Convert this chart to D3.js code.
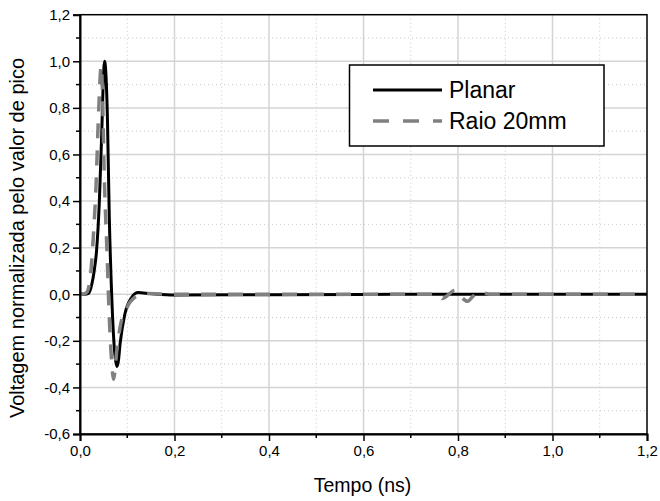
<!DOCTYPE html>
<html>
<head>
<meta charset="utf-8">
<script src="https://cdn.jsdelivr.net/npm/d3@7"></script>
<style>
  body { margin: 0; background: #fff; }
  svg { font-family: 'Liberation Sans', Arial, sans-serif; }
</style>
</head>
<body>
<svg id="chart" width="660" height="501"></svg>
<script>
// time axis (ns) and normalised voltage
const planarT = [0, 0.010, 0.018, 0.025, 0.030, 0.035, 0.041, 0.046, 0.049, 0.052, 0.055, 0.058, 0.062, 0.067, 0.073, 0.078, 0.081, 0.085, 0.095, 0.109, 0.123, 0.148, 0.2, 0.4, 0.6, 0.8, 1.0, 1.2];
const planarV = [0, 0, 0.004, 0.043, 0.10, 0.186, 0.40, 0.69, 0.90, 1.0, 0.94, 0.76, 0.33, 0.0, -0.24, -0.31, -0.29, -0.21, -0.085, -0.015, 0.007, 0.003, -0.003, -0.002, -0.001, 0, 0, 0];

const raioT = [0, 0.004, 0.013, 0.021, 0.028, 0.034, 0.039, 0.045, 0.048, 0.051, 0.057, 0.062, 0.067, 0.071, 0.078, 0.085, 0.099, 0.120, 0.134, 0.2, 0.5, 0.76, 0.767, 0.794, 0.806, 0.820, 0.832, 0.845, 0.868, 1.0, 1.2];
const raioV = [0, 0, 0.005, 0.057, 0.24, 0.47, 0.76, 0.98, 0.83, 0.54, 0.19, -0.10, -0.29, -0.365, -0.24, -0.14, -0.058, -0.007, 0.003, 0, 0, 0, -0.018, 0.017, -0.01, -0.03, -0.008, 0.011, 0, 0, 0];

const xTicks = [0, 0.2, 0.4, 0.6, 0.8, 1.0, 1.2];
const yTicks = [-0.6, -0.4, -0.2, 0, 0.2, 0.4, 0.6, 0.8, 1.0, 1.2];
const legendNames = ["Planar", "Raio 20mm"];

const margin = { top: 14.7, left: 80, right: 13, bottom: 67 };
const svg = d3.select("#chart");
const width = 660 - margin.left - margin.right;
const height = 501 - margin.top - margin.bottom;

const x = d3.scaleLinear().domain([0, 1.2]).range([0, width]);
const y = d3.scaleLinear().domain([-0.6, 1.2]).range([height, 0]);
const fmt = d => d3.format(".1f")(d).replace(".", ",").replace("−", "-");

const g = svg.append("g").attr("transform", `translate(${margin.left},${margin.top})`);

// minor grid (dotted) at every 0.1
const minorX = d3.range(1, 12, 2).map(i => i / 10);
const minorY = d3.range(-5, 12, 2).map(i => i / 10);
g.append("g").selectAll("line").data(minorX).join("line")
  .attr("x1", d => x(d)).attr("x2", d => x(d)).attr("y1", 0).attr("y2", height)
  .attr("stroke", "#c8c8c8").attr("stroke-width", 1).attr("stroke-dasharray", "1,3");
g.append("g").selectAll("line").data(minorY).join("line")
  .attr("y1", d => y(d)).attr("y2", d => y(d)).attr("x1", 0).attr("x2", width)
  .attr("stroke", "#c8c8c8").attr("stroke-width", 1).attr("stroke-dasharray", "1,3");

// major grid (solid)
g.append("g").selectAll("line").data(xTicks.slice(1, -1)).join("line")
  .attr("x1", d => x(d)).attr("x2", d => x(d)).attr("y1", 0).attr("y2", height)
  .attr("stroke", "#d4d4d4").attr("stroke-width", 1.5);
g.append("g").selectAll("line").data(yTicks.slice(1, -1)).join("line")
  .attr("y1", d => y(d)).attr("y2", d => y(d)).attr("x1", 0).attr("x2", width)
  .attr("stroke", "#d4d4d4").attr("stroke-width", 1.5);

// series
const line = d3.line().curve(d3.curveMonotoneX);
g.append("path")
  .attr("d", line(planarT.map((t, i) => [x(t), y(planarV[i])])))
  .attr("fill", "none").attr("stroke", "#000").attr("stroke-width", 3);
g.append("path")
  .attr("d", line(raioT.map((t, i) => [x(t), y(raioV[i])])))
  .attr("fill", "none").attr("stroke", "#808080").attr("stroke-width", 3.5)
  .attr("stroke-dasharray", "15,12");

// frame
g.append("rect").attr("width", width).attr("height", height)
  .attr("fill", "none").attr("stroke", "#000").attr("stroke-width", 1.5);

// axes
const xAxis = d3.axisBottom(x).tickValues(xTicks).tickFormat(fmt).tickSize(7).tickPadding(4);
const yAxis = d3.axisLeft(y).tickValues(yTicks).tickFormat(fmt).tickSize(7).tickPadding(3);
const xa = g.append("g").attr("transform", `translate(0,${height})`).call(xAxis);
const ya = g.append("g").call(yAxis);
[xa, ya].forEach(a => {
  a.select(".domain").attr("stroke-width", 2);
  a.selectAll(".tick line").attr("stroke-width", 1.5);
  a.selectAll("text").attr("font-size", 15).attr("fill", "#000").attr("font-family", "'Liberation Sans', Arial, sans-serif");
});
// minor ticks
g.append("g").selectAll("line").data(minorX).join("line")
  .attr("x1", d => x(d)).attr("x2", d => x(d)).attr("y1", height).attr("y2", height + 4)
  .attr("stroke", "#000").attr("stroke-width", 1.5);
g.append("g").selectAll("line").data(minorY).join("line")
  .attr("y1", d => y(d)).attr("y2", d => y(d)).attr("x1", 0).attr("x2", -4)
  .attr("stroke", "#000").attr("stroke-width", 1.5);

// axis titles
svg.append("text").attr("x", margin.left + width / 2 - 1).attr("y", 492)
  .attr("text-anchor", "middle").attr("font-size", 19.5).text("Tempo (ns)");
svg.append("text").attr("transform", `translate(24,238) rotate(-90)`)
  .attr("text-anchor", "middle").attr("font-size", 20).text("Voltagem normalizada pelo valor de pico");

// legend
const lg = svg.append("g");
lg.append("rect").attr("x", 349.5).attr("y", 65).attr("width", 254.5).attr("height", 81)
  .attr("fill", "#fff").attr("stroke", "#000").attr("stroke-width", 1.5);
const legendStyle = [
  { stroke: "#000", width: 3, dash: null },
  { stroke: "#808080", width: 3.5, dash: "16,14" }
];
legendNames.forEach((name, i) => {
  const ly = 90 + i * 31;
  lg.append("line").attr("x1", 373).attr("x2", 442).attr("y1", ly).attr("y2", ly)
    .attr("stroke", legendStyle[i].stroke).attr("stroke-width", legendStyle[i].width)
    .attr("stroke-dasharray", legendStyle[i].dash);
  lg.append("text").attr("x", 449).attr("y", ly + 8).attr("font-size", 23).text(name);
});
</script>
</body>
</html>
